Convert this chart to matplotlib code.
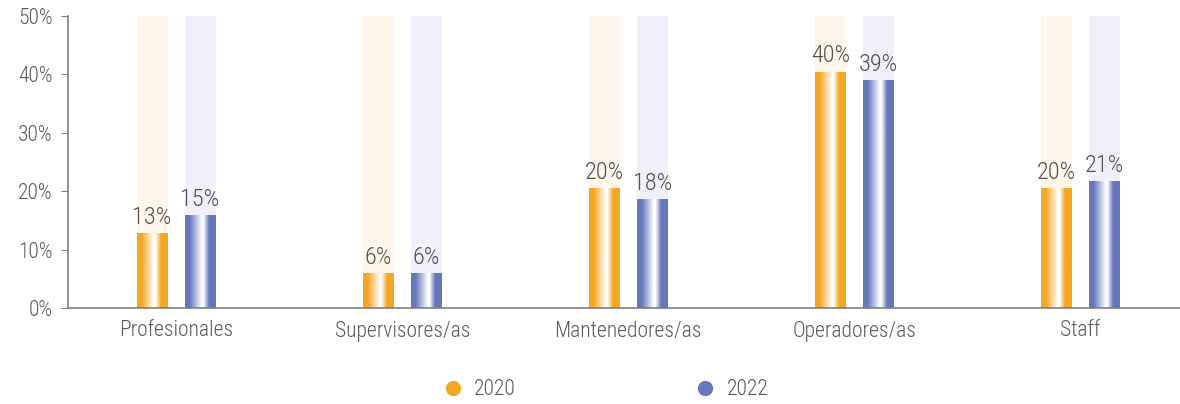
import numpy as np
import matplotlib.pyplot as plt
from matplotlib.colors import LinearSegmentedColormap
from matplotlib.lines import Line2D

plt.rcParams['font.family'] = ['Roboto Condensed', 'Roboto', 'DejaVu Sans']
plt.rcParams['font.weight'] = 'light'

categories = ['Profesionales', 'Supervisores/as', 'Mantenedores/as', 'Operadores/as', 'Staff']
vals_2020 = [12.7, 5.9, 20.4, 40.4, 20.4]
vals_2022 = [15.8, 5.9, 18.5, 38.9, 21.7]
labels_2020 = ['13%', '6%', '20%', '40%', '20%']
labels_2022 = ['15%', '6%', '18%', '39%', '21%']
years = ['2020', '2022']
y_max = 50

orange = '#f5a623'
blue = '#6677bb'
bg_orange = '#fef6ea'
bg_blue = '#eff0fa'
text_gray = '#595959'


def shine_cmap(c):
    # colour -> white stripe a bit right of centre -> colour
    return LinearSegmentedColormap.from_list(
        'shine', [(0.0, c), (0.15, c), (0.55, 'white'), (0.6, '#fdfdfd'), (0.78, c), (1.0, c)])


fig = plt.figure(figsize=(11.8, 4.04), dpi=100)
ax = fig.add_axes([68 / 1180, 96 / 404, 1 - 68 / 1180, 292 / 404])

x = np.arange(len(categories))
w = 0.137
off = 0.106
grad = np.linspace(0, 1, 256).reshape(1, -1)

for vals, labs, sign, col, bgc in [(vals_2020, labels_2020, -1, orange, bg_orange),
                                   (vals_2022, labels_2022, 1, blue, bg_blue)]:
    cm = shine_cmap(col)
    pos = x + sign * off
    # pale background bars up to the top of the scale
    ax.bar(pos, [y_max] * len(pos), width=w, color=bgc, zorder=1)
    for p, v, lab in zip(pos, vals, labs):
        ax.imshow(grad, extent=(p - w / 2, p + w / 2, 0, v), cmap=cm,
                  aspect='auto', zorder=2, interpolation='bilinear')
        ax.text(p, v + 0.8, lab, ha='center', va='bottom', fontsize=17.5,
                color='#505050', zorder=3)

ax.set_xlim(-0.478, 4.44)
ax.set_ylim(0, y_max)
ax.set_yticks(range(0, 51, 10))
ax.set_yticklabels([f'{t}%' for t in range(0, 51, 10)])
ax.set_xticks(x)
ax.set_xticklabels(categories)

for s in ['top', 'right']:
    ax.spines[s].set_visible(False)
for s in ['left', 'bottom']:
    ax.spines[s].set_color('#7f7f7f')
    ax.spines[s].set_linewidth(1.2)

ax.tick_params(axis='y', length=5, color='#7f7f7f', labelsize=15.5,
               labelcolor=text_gray, pad=6)
ax.tick_params(axis='x', length=0, labelsize=15.5, labelcolor=text_gray, pad=9)

handles = [Line2D([], [], marker='o', linestyle='', markersize=10, color=orange),
           Line2D([], [], marker='o', linestyle='', markersize=10, color=blue)]
leg = fig.legend(handles, years, loc='center', bbox_to_anchor=(0.513, 0.035),
                 ncol=2, frameon=False, fontsize=15.5, columnspacing=8.3,
                 handletextpad=0.5, handlelength=1.0)
for t in leg.get_texts():
    t.set_color(text_gray)

fig.savefig('out.png', dpi=100)
